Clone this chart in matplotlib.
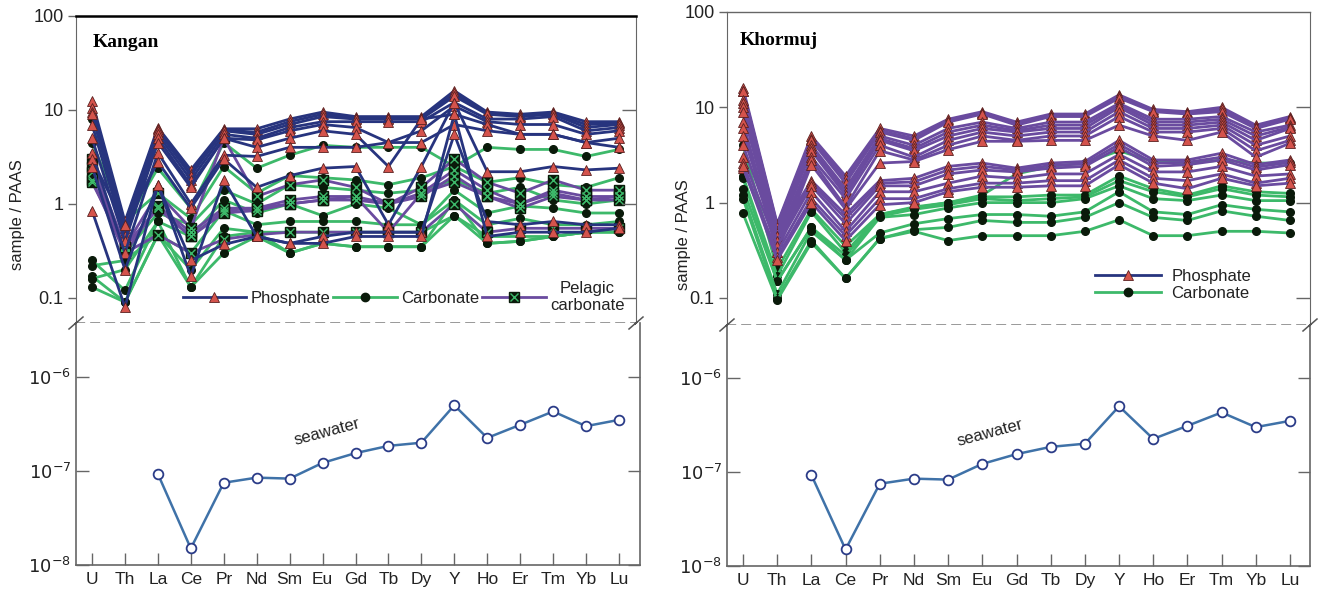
import matplotlib
matplotlib.use("Agg")
import matplotlib.pyplot as plt
from matplotlib.lines import Line2D
import numpy as np

plt.rcParams['font.family'] = ['Liberation Sans', 'DejaVu Sans']

elements = ["U", "Th", "La", "Ce", "Pr", "Nd", "Sm", "Eu", "Gd", "Tb", "Dy", "Y", "Ho", "Er", "Tm", "Yb", "Lu"]

# seawater (La..Lu), same in both panels
seawater_elements = ["La", "Ce", "Pr", "Nd", "Sm", "Eu", "Gd", "Tb", "Dy", "Y", "Ho", "Er", "Tm", "Yb", "Lu"]
seawater = [9.3e-8, 1.5e-8, 7.5e-8, 8.5e-8, 8.3e-8, 1.22e-7, 1.55e-7, 1.85e-7, 2.0e-7, 5.0e-7, 2.25e-7, 3.1e-7, 4.3e-7, 3.0e-7, 3.5e-7]

# ---------------- Kangan ----------------
kangan_phosphate = [
    [12.5, 0.65, 6.5, 2.3, 6.3, 6.3, 8.0, 9.5, 8.5, 8.5, 8.5, 16, 9.5, 9.0, 9.5, 7.5, 7.5],
    [10.5, 0.6, 6.2, 2.1, 6.1, 5.8, 7.5, 9.0, 8.2, 8.2, 8.2, 15, 9.2, 8.7, 9.2, 7.0, 7.2],
    [9.5, 0.55, 6.0, 2.0, 6.0, 5.5, 7.0, 8.5, 8.0, 8.0, 8.0, 14, 9.0, 8.5, 9.0, 6.5, 7.0],
    [9.0, 0.5, 5.5, 1.8, 5.5, 5.0, 6.5, 7.5, 7.5, 7.5, 7.5, 12, 8.0, 8.0, 8.5, 6.0, 6.5],
    [7.0, 0.45, 5.0, 1.6, 5.0, 4.8, 6.0, 7.0, 6.5, 4.5, 6.0, 11, 7.5, 7.0, 7.0, 5.5, 6.0],
    [5.0, 0.4, 4.5, 1.5, 5.0, 4.0, 5.0, 6.0, 5.5, 2.5, 8.0, 9.0, 7.0, 5.5, 5.5, 4.5, 5.0],
    [3.5, 0.3, 3.5, 1.0, 3.3, 3.2, 4.0, 4.0, 4.0, 4.5, 4.5, 7.0, 6.0, 5.5, 5.5, 4.5, 4.0],
    [3.0, 0.6, 2.8, 0.9, 3.0, 1.5, 2.0, 2.4, 2.5, 0.6, 2.5, 12, 2.2, 2.2, 2.5, 2.3, 2.4],
    [0.85, 0.08, 1.6, 0.17, 1.8, 0.45, 0.38, 0.45, 0.5, 0.5, 0.5, 5.5, 0.65, 0.6, 0.65, 0.6, 0.6],
    [2.5, 0.2, 1.6, 0.25, 0.37, 0.45, 0.38, 0.38, 0.45, 0.45, 0.45, 9.0, 0.45, 0.5, 0.5, 0.5, 0.55],
]
kangan_carbonate = [
    [8.0, 0.6, 2.4, 0.9, 4.5, 2.4, 3.3, 4.2, 4.0, 4.0, 4.0, 2.5, 4.0, 3.8, 3.8, 3.2, 3.8],
    [4.5, 0.65, 1.3, 0.7, 2.5, 1.3, 2.0, 1.9, 1.8, 1.6, 1.9, 2.5, 1.7, 1.9, 1.6, 1.5, 1.9],
    [3.0, 0.3, 0.8, 0.6, 1.4, 1.0, 1.6, 1.5, 1.4, 1.3, 1.4, 1.8, 1.3, 1.5, 1.1, 1.0, 1.1],
    [0.25, 0.12, 0.65, 0.45, 1.1, 0.8, 1.0, 0.75, 1.0, 0.9, 0.6, 1.4, 0.8, 0.95, 0.9, 0.8, 0.8],
    [0.22, 0.25, 0.47, 0.3, 0.85, 0.6, 0.65, 0.65, 0.65, 0.6, 0.6, 1.1, 0.6, 0.7, 0.6, 0.6, 0.65],
    [0.17, 0.09, 0.47, 0.2, 0.55, 0.5, 0.5, 0.5, 0.5, 0.5, 0.5, 0.75, 0.45, 0.45, 0.45, 0.5, 0.55],
    [0.16, 0.2, 0.65, 0.13, 0.45, 0.5, 0.3, 0.38, 0.35, 0.35, 0.35, 1.1, 0.38, 0.4, 0.45, 0.5, 0.5],
    [0.13, 0.09, 0.47, 0.13, 0.3, 0.45, 0.3, 0.38, 0.35, 0.35, 0.35, 0.75, 0.38, 0.4, 0.45, 0.5, 0.5],
]
kangan_pelagic = [
    [3.0, 0.35, 1.3, 0.55, 5.0, 1.2, 1.6, 1.8, 1.5, 1.0, 1.5, 3.0, 1.7, 1.3, 1.8, 1.4, 1.4],
    [2.5, 0.3, 0.95, 0.5, 0.9, 0.9, 1.1, 1.2, 1.2, 1.0, 1.3, 2.3, 1.4, 1.0, 1.4, 1.2, 1.2],
    [2.2, 0.35, 0.9, 0.45, 0.8, 0.85, 1.0, 1.1, 1.2, 0.5, 1.3, 1.7, 1.2, 0.9, 1.2, 1.1, 1.1],
    [1.8, 0.3, 0.47, 0.3, 0.42, 0.47, 0.5, 0.5, 0.5, 0.5, 0.5, 1.0, 0.5, 0.55, 0.55, 0.55, 0.55],
    [1.7, 0.35, 0.9, 0.45, 0.85, 0.9, 1.0, 1.1, 1.1, 1.0, 1.2, 2.0, 1.2, 1.0, 1.3, 1.1, 1.2],
]

# ---------------- Khormuj ----------------
khormuj_phosphate = [
    [16, 0.6, 5.0, 1.9, 6.0, 5.0, 7.5, 9.0, 7.0, 8.5, 8.5, 13.5, 9.5, 9.0, 10, 6.5, 8.0],
    [15, 0.58, 4.7, 1.75, 5.7, 4.7, 7.2, 8.7, 6.7, 8.2, 8.2, 13, 9.2, 8.7, 9.5, 6.2, 7.7],
    [15, 0.55, 4.5, 1.6, 5.5, 4.5, 7.0, 8.5, 6.5, 8.0, 8.0, 12.5, 9.0, 8.5, 9.0, 6.0, 7.5],
    [12, 0.5, 4.0, 1.4, 5.0, 4.0, 6.0, 7.0, 6.0, 7.0, 7.0, 11, 7.5, 7.5, 8.0, 5.5, 6.5],
    [11, 0.48, 3.7, 1.3, 4.7, 3.7, 5.5, 6.5, 5.7, 6.5, 6.5, 10.5, 7.0, 7.0, 7.5, 5.0, 6.2],
    [10, 0.45, 3.5, 1.2, 4.5, 3.5, 5.0, 6.0, 5.5, 6.0, 6.0, 10, 6.5, 6.5, 7.0, 4.5, 6.0],
    [9, 0.4, 3.0, 1.1, 4.0, 3.0, 4.5, 5.5, 5.0, 5.5, 5.5, 9.0, 6.0, 6.0, 6.5, 4.0, 5.0],
    [7, 0.35, 2.8, 0.9, 3.5, 2.8, 4.0, 5.0, 4.5, 5.0, 5.0, 8.0, 5.5, 5.5, 6.0, 3.5, 4.5],
    [6, 0.3, 2.5, 0.85, 2.6, 2.7, 3.6, 4.4, 4.4, 4.5, 4.5, 6.5, 5.0, 4.5, 5.5, 3.0, 4.2],
    [5, 0.45, 1.7, 0.75, 1.7, 1.8, 2.4, 2.6, 2.3, 2.6, 2.7, 4.5, 2.8, 2.8, 3.3, 2.5, 2.8],
    [4, 0.4, 1.6, 0.68, 1.6, 1.65, 2.2, 2.4, 2.2, 2.45, 2.55, 4.1, 2.6, 2.65, 3.0, 2.35, 2.65],
    [3.0, 0.35, 1.5, 0.6, 1.5, 1.5, 2.0, 2.2, 2.1, 2.3, 2.4, 3.8, 2.4, 2.5, 2.8, 2.2, 2.5],
    [2.3, 0.3, 1.3, 0.5, 1.3, 1.3, 1.6, 1.9, 1.8, 2.0, 2.0, 3.2, 2.1, 2.1, 2.4, 1.9, 2.0],
    [2.6, 0.27, 1.1, 0.45, 1.1, 1.1, 1.4, 1.6, 1.6, 1.7, 1.7, 2.8, 1.8, 1.7, 2.0, 1.6, 1.8],
    [2.4, 0.25, 1.0, 0.4, 0.95, 1.0, 1.3, 1.45, 1.45, 1.5, 1.5, 2.5, 1.6, 1.4, 1.8, 1.5, 1.6],
]
khormuj_carbonate = [
    [4.0, 0.2, 0.85, 0.35, 0.75, 0.9, 1.0, 1.2, 2.0, 2.4, 2.6, 3.5, 2.7, 2.6, 2.8, 2.6, 2.6],
    [1.9, 0.17, 0.8, 0.3, 0.75, 0.88, 1.0, 1.15, 1.15, 1.2, 1.2, 1.9, 1.4, 1.2, 1.5, 1.3, 1.25],
    [1.8, 0.15, 0.55, 0.28, 0.72, 0.85, 0.95, 1.1, 1.05, 1.1, 1.15, 1.7, 1.3, 1.15, 1.4, 1.2, 1.15],
    [1.4, 0.15, 0.55, 0.25, 0.7, 0.75, 0.88, 1.0, 1.0, 1.0, 1.1, 1.5, 1.1, 1.05, 1.2, 1.05, 1.05],
    [1.2, 0.11, 0.5, 0.25, 0.48, 0.6, 0.68, 0.75, 0.75, 0.72, 0.8, 1.3, 0.8, 0.75, 0.95, 0.85, 0.8],
    [1.1, 0.1, 0.4, 0.16, 0.42, 0.52, 0.55, 0.65, 0.62, 0.62, 0.7, 1.0, 0.7, 0.65, 0.82, 0.72, 0.65],
    [0.77, 0.095, 0.38, 0.16, 0.42, 0.5, 0.4, 0.45, 0.45, 0.45, 0.5, 0.66, 0.45, 0.45, 0.5, 0.5, 0.48],
]

NAVY = "#27347e"
PURPLE = "#6a4b9f"
GREEN = "#3db96a"
RED = "#d4534c"
SEA = "#3f72a8"
GRAY = "#666666"
TXT = "#222222"
LW = 2.0

fig = plt.figure(figsize=(13.22, 5.96), dpi=100)
W, H = 1322.0, 596.0

x = np.arange(len(elements))
sea_x = [elements.index(e) for e in seawater_elements]


def px_ax(l, r, top, bot):
    return [l / W, 1 - bot / H, (r - l) / W, (bot - top) / H]


def plot_phos(ax, data, color):
    for row in data:
        ax.plot(x, row, color=color, lw=LW, marker='^', ms=6.5, mfc=RED, mec="#5a2020", mew=0.6, zorder=3)


def plot_carb(ax, data):
    for row in data:
        ax.plot(x, row, color=GREEN, lw=LW, marker='o', ms=5.5, mfc="#0a1a0a", mec="#0a1a0a", zorder=2)


def plot_pel(ax, data):
    for row in data:
        ax.plot(x, row, color=PURPLE, lw=LW, marker='s', ms=7, mfc="#0a1a0a", mec="#0a1a0a", zorder=2.5)
        ax.plot(x, row, ls='none', marker='x', ms=6, mec=GREEN, mew=1.0, zorder=2.6)


def setup_upper(ax, xlim, ylim, top_color, top_lw):
    ax.set_yscale('log')
    ax.set_xlim(*xlim)
    ax.set_ylim(*ylim)
    ax.set_xticks([])
    ax.set_yticks([0.1, 1, 10, 100])
    ax.set_yticklabels(["0.1", "1", "10", "100"])
    ax.yaxis.set_minor_locator(matplotlib.ticker.NullLocator())
    ax.tick_params(axis='y', direction='out', length=6, width=1, color=GRAY, labelsize=13, labelcolor=TXT, pad=3)
    ax.spines['bottom'].set_linestyle((0, (5, 4)))
    ax.spines['bottom'].set_color("#888888")
    ax.spines['bottom'].set_linewidth(1.2)
    ax.spines['left'].set_color(GRAY)
    ax.spines['right'].set_color(GRAY)
    ax.spines['top'].set_color(top_color)
    ax.spines['top'].set_linewidth(top_lw)
    tw = ax.twinx()
    tw.set_yscale('log')
    tw.set_ylim(*ylim)
    tw.set_yticks([0.1, 1, 10])
    tw.yaxis.set_minor_locator(matplotlib.ticker.NullLocator())
    tw.tick_params(axis='y', direction='in', length=10, width=1, color=GRAY, labelright=False)
    for s in tw.spines.values():
        s.set_visible(False)


def setup_lower(ax, xlim, ylim):
    ax.set_yscale('log')
    ax.set_xlim(*xlim)
    ax.set_ylim(*ylim)
    ax.set_xticks(x)
    ax.set_xticklabels(elements)
    ax.set_yticks([1e-8, 1e-7, 1e-6])
    ax.set_yticklabels([r"$10^{-8}$", r"$10^{-7}$", r"$10^{-6}$"])
    ax.yaxis.set_minor_locator(matplotlib.ticker.NullLocator())
    ax.tick_params(axis='x', direction='in', length=9, width=1, color=GRAY, labelsize=12.5, labelcolor=TXT, pad=5)
    ax.tick_params(axis='y', direction='in', length=9, width=1, color=GRAY, labelsize=13, labelcolor=TXT, right=True)
    ax.spines['top'].set_visible(False)
    for s in ['left', 'right', 'bottom']:
        ax.spines[s].set_color(GRAY)
        ax.spines[s].set_linewidth(1.2)


def break_marks(xl, xr, y):
    for xc in (xl, xr):
        xs = [xc - 7, xc + 1, xc - 1, xc + 7]
        ys = [y + 6, y - 1, y + 1, y - 6]
        fig.add_artist(Line2D([v / W for v in xs], [1 - v / H for v in ys], color="#555555", lw=1.1))


def seawater_plot(ax, xpos, ypos):
    ax.plot(sea_x, seawater, color=SEA, lw=1.8, marker='o', ms=7, mfc='white', mec="#2b3c88", mew=1.3)
    ax.text(xpos, ypos, "seawater", rotation=15, fontsize=12, color=TXT, ha='center', va='center')


# ---------- Kangan panel ----------
k_left, k_right = 76, 636
k_dx = (619 - 92) / 16.0
k_xlim = (-(92 - k_left) / k_dx, 16 + (k_right - 619) / k_dx)

axK = fig.add_axes(px_ax(k_left, k_right, 16, 323))
plot_carb(axK, kangan_carbonate)
plot_pel(axK, kangan_pelagic)
plot_phos(axK, kangan_phosphate, NAVY)
setup_upper(axK, k_xlim, (0.054, 100), "black", 1.8)
axK.text(0.03, 0.915, "Kangan", transform=axK.transAxes, fontsize=14, fontweight='bold',
         family='Liberation Serif', ha='left', va='center')

hP = Line2D([], [], color=NAVY, lw=LW, marker='^', ms=7, mfc=RED, mec="#5a2020", mew=0.6)
hC = Line2D([], [], color=GREEN, lw=LW, marker='o', ms=6, mfc="#0a1a0a", mec="#0a1a0a")
hG = Line2D([], [], color=PURPLE, lw=LW, marker='s', ms=7.5, mfc="#0a1a0a", mec="#0a1a0a")
hGx = Line2D([], [], ls='none', marker='x', ms=6, mec=GREEN, mew=1.0)
legK = axK.legend([hP, hC, (hG, hGx)], ["Phosphate", "Carbonate", "Pelagic\ncarbonate"], ncol=3,
                  loc='center', bbox_to_anchor=(0.585, 0.085), frameon=False, fontsize=12,
                  handlelength=3.8, handletextpad=0.25, columnspacing=0.2, borderaxespad=0)
for t in legK.get_texts():
    t.set_color(TXT)
    t.set_multialignment('center')

axKl = fig.add_axes(px_ax(k_left, k_right + 4, 323, 565))
seawater_plot(axKl, 7.13, 2.6e-7)
setup_lower(axKl, (k_xlim[0], k_xlim[1] + 4 / k_dx), (1e-8, 1e-6 * 10 ** (54 / 94.0)))

fig.text(18 / W, 1 - 215 / H, "sample / PAAS", rotation=90, ha='center', va='center', fontsize=12, color=TXT)
break_marks(k_left, k_right, 323)

# ---------- Khormuj panel ----------
h_left, h_right = 727, 1310
h_dx = (1290 - 743) / 16.0
h_xlim = (-(743 - h_left) / h_dx, 16 + (h_right - 1290) / h_dx)

axH = fig.add_axes(px_ax(h_left, h_right, 12, 325))
plot_carb(axH, khormuj_carbonate)
plot_phos(axH, khormuj_phosphate, PURPLE)
setup_upper(axH, h_xlim, (0.052, 100), GRAY, 1.0)
axH.text(0.022, 0.91, "Khormuj", transform=axH.transAxes, fontsize=14, fontweight='bold',
         family='Liberation Serif', ha='left', va='center')

hP2 = Line2D([], [], color=NAVY, lw=LW, marker='^', ms=7, mfc=RED, mec="#5a2020", mew=0.6)
legH = axH.legend([hP2, hC], ["Phosphate", "Carbonate"], loc='center', bbox_to_anchor=(0.765, 0.128),
                  frameon=False, fontsize=12, handlelength=4.0, handletextpad=0.6, labelspacing=0.1,
                  borderaxespad=0)
for t in legH.get_texts():
    t.set_color(TXT)

axHl = fig.add_axes(px_ax(h_left, h_right, 325, 566))
seawater_plot(axHl, 7.22, 2.6e-7)
setup_lower(axHl, h_xlim, (1e-8, 1e-6 * 10 ** (53 / 94.0)))

fig.text(683 / W, 1 - 235 / H, "sample / PAAS", rotation=90, ha='center', va='center', fontsize=12, color=TXT)
break_marks(h_left, h_right, 325)

fig.savefig("out.png", dpi=100)
